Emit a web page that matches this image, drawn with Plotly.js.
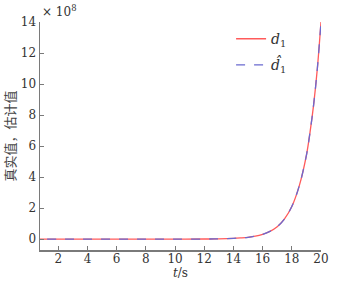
<!DOCTYPE html>
<html><head><meta charset="utf-8">
<script src="https://cdn.plot.ly/plotly-3.0.1.min.js"></script>
<style>html,body{margin:0;padding:0;background:#fff;}#chart{width:338px;height:287px;}</style>
</head><body><div id="chart"></div>
<script>
// time (s)
var t = [0, 2, 4, 6, 8, 10, 12, 13, 14, 14.5, 15, 15.5, 16, 16.5, 17, 17.5, 18, 18.5, 19, 19.25, 19.5, 19.75, 20];
// true value d1 (x10^8)
var dTrue = [0, 0, 0, 0, 0.001, 0.002, 0.008, 0.02, 0.05, 0.08, 0.12, 0.19, 0.31, 0.5, 0.8, 1.3, 2.1, 3.4, 5.4, 6.9, 8.7, 11.0, 14.0];
// estimated value d1-hat (x10^8)
var dEst = [0, 0, 0, 0, 0.001, 0.002, 0.008, 0.02, 0.05, 0.08, 0.12, 0.19, 0.31, 0.5, 0.8, 1.3, 2.1, 3.4, 5.4, 6.9, 8.7, 11.0, 14.0];
var xTicks = [2, 4, 6, 8, 10, 12, 14, 16, 18, 20];
var yTicks = [0, 2, 4, 6, 8, 10, 12, 14];

var serif = "DejaVu Serif";
var axisCol = "#7a7a7a";
var traces = [
  {x: t, y: dTrue, mode: "lines", line: {color: "#ff5a5a", width: 1.3, shape: "spline"},
   name: "<i>d</i><sub>1</sub>", legendgroup: "a"},
  {x: t, y: dEst, mode: "lines", line: {color: "#6a6ad0", width: 1.3, dash: "dash", shape: "spline"},
   name: "<i>d\u0302</i><sub>1</sub>", legendgroup: "b"}
];
var layout = {
  width: 338, height: 287,
  margin: {l: 40, r: 17, t: 22, b: 37},
  paper_bgcolor: "#fff", plot_bgcolor: "#fff",
  font: {family: serif, size: 12, color: "#333"},
  showlegend: true,
  legend: {x: 0.68, y: 0.995, xanchor: "left", yanchor: "top", bgcolor: "rgba(0,0,0,0)",
           font: {family: serif, size: 14, color: "#333"}, tracegroupgap: 5, traceorder: "grouped"},
  xaxis: {range: [0.75, 20], tickvals: xTicks, ticks: "inside", ticklen: 4, tickcolor: axisCol,
          showline: true, linecolor: axisCol, linewidth: 1.5, showgrid: false, zeroline: false,
          mirror: false, ticklabelstandoff: -3, tickfont: {family: serif, size: 12, color: "#333"},
          title: {text: "<i>t</i>/s", font: {family: serif, size: 12, color: "#333"}, standoff: 0}},
  yaxis: {range: [-0.7, 14], tickvals: yTicks, ticks: "inside", ticklen: 4, tickcolor: axisCol,
          showline: true, linecolor: axisCol, linewidth: 1.5, showgrid: false, zeroline: false,
          tickfont: {family: serif, size: 12, color: "#333"},
          title: {text: "真实值，估计值", font: {family: "Noto Sans CJK SC", size: 13, color: "#444"}, standoff: 8}},
  annotations: [{xref: "paper", yref: "paper", x: 0, y: 1, xanchor: "left", yanchor: "bottom", yshift: 1,
                 showarrow: false, text: "× 10<sup>8</sup>", font: {family: serif, size: 12, color: "#333"}}]
};
Plotly.newPlot("chart", traces, layout, {displayModeBar: false, staticPlot: true});
</script></body></html>
